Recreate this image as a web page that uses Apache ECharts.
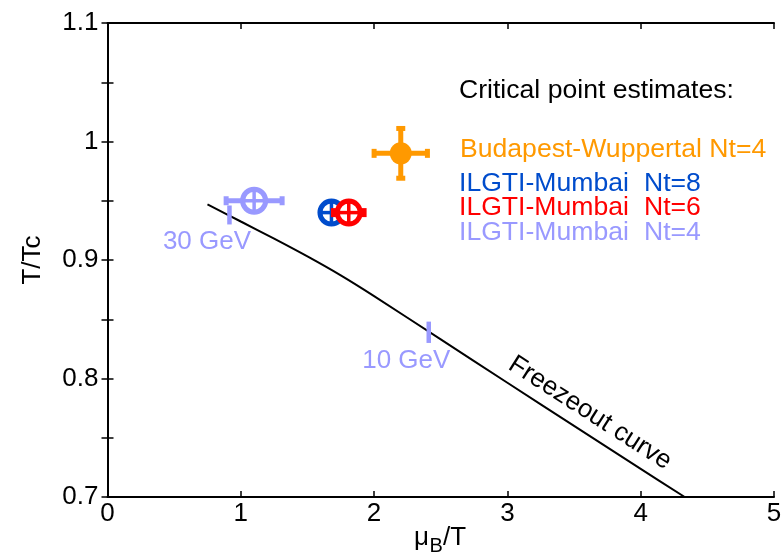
<!DOCTYPE html>
<html><head><meta charset="utf-8">
<script src="https://cdn.jsdelivr.net/npm/echarts@6/dist/echarts.min.js"></script>
<style>html,body{margin:0;padding:0;background:#fff}#c{width:784px;height:555px}</style>
</head><body><div id="c"></div>
<script>
// ---- data ----
const xTicks = [0, 1, 2, 3, 4, 5];
const yTicks = [0.7, 0.8, 0.9, 1.0, 1.1];

const freezeMuB = [0.75, 1.0, 1.25, 1.5, 1.75, 2.0, 2.5, 3.0, 3.5, 4.0, 4.33];
const freezeT   = [0.947, 0.9325, 0.918, 0.903, 0.887, 0.8695, 0.833, 0.7964, 0.760, 0.7237, 0.700];

const pointNames   = ['Budapest-Wuppertal Nt=4', 'ILGTI-Mumbai Nt=8', 'ILGTI-Mumbai Nt=6', 'ILGTI-Mumbai Nt=4'];
const pointColors  = ['#ff9900', '#004ccc', '#ff0000', '#9999ff'];
const pointMuB     = [2.2, 1.68, 1.81, 1.1];
const pointT       = [0.99, 0.94, 0.94, 0.95];
const pointMuBErr  = [0.2, 0.08, 0.115, 0.21];
const pointTErr    = [0.021, 0, 0, 0];
const pointFilled  = [true, false, false, false];

const energyLabels = ['30 GeV', '10 GeV'];
const energyMuB    = [0.915, 2.41];
const energyTLo    = [0.930, 0.830];
const energyTHi    = [0.946, 0.848];

const FONT = 'Liberation Sans, Arial, sans-serif';

function fmtY(v) {
  const r = Math.round(v * 100);
  if (r % 10 !== 0) return '';
  return String(Number(v.toFixed(2)));
}

function pointRender(idx) {
  return function (params, api) {
    const x = api.value(0), y = api.value(1), ex = api.value(2), ey = api.value(3);
    const c = api.coord([x, y]);
    const col = pointColors[idx];
    const ch = [];
    const bw = 5, cap = 4.5;
    if (ex > 0) {
      const l = api.coord([x - ex, y]), r = api.coord([x + ex, y]);
      ch.push({type: 'line', shape: {x1: l[0], y1: l[1], x2: r[0], y2: r[1]}, style: {stroke: col, lineWidth: bw}});
      ch.push({type: 'line', shape: {x1: l[0], y1: l[1] - cap, x2: l[0], y2: l[1] + cap}, style: {stroke: col, lineWidth: bw}});
      ch.push({type: 'line', shape: {x1: r[0], y1: r[1] - cap, x2: r[0], y2: r[1] + cap}, style: {stroke: col, lineWidth: bw}});
    }
    if (ey > 0) {
      const t = api.coord([x, y + ey]), b = api.coord([x, y - ey]);
      ch.push({type: 'line', shape: {x1: t[0], y1: t[1], x2: b[0], y2: b[1]}, style: {stroke: col, lineWidth: bw}});
      ch.push({type: 'line', shape: {x1: t[0] - cap, y1: t[1], x2: t[0] + cap, y2: t[1]}, style: {stroke: col, lineWidth: bw}});
      ch.push({type: 'line', shape: {x1: b[0] - cap, y1: b[1], x2: b[0] + cap, y2: b[1]}, style: {stroke: col, lineWidth: bw}});
    }
    if (pointFilled[idx]) {
      ch.push({type: 'circle', shape: {cx: c[0], cy: c[1], r: 11}, style: {fill: col}});
    } else {
      const R = 11.5;
      ch.push({type: 'circle', shape: {cx: c[0], cy: c[1], r: R}, style: {fill: '#fff', stroke: col, lineWidth: 5}});
      ch.push({type: 'line', shape: {x1: c[0] - R, y1: c[1], x2: c[0] + R, y2: c[1]}, style: {stroke: col, lineWidth: 3.5}});
      ch.push({type: 'line', shape: {x1: c[0], y1: c[1] - R, x2: c[0], y2: c[1] + R}, style: {stroke: col, lineWidth: 3.5}});
    }
    return {type: 'group', children: ch};
  };
}

const pointSeries = pointNames.map((n, i) => ({
  type: 'custom', name: n, xAxisIndex: 0, yAxisIndex: 0, clip: false, z: 5 + i,
  renderItem: pointRender(i),
  data: [[pointMuB[i], pointT[i], pointMuBErr[i], pointTErr[i]]]
}));

const energySeries = {
  type: 'custom', name: 'energies', xAxisIndex: 0, yAxisIndex: 0, z: 4,
  renderItem: function (params, api) {
    const i = params.dataIndex;
    const lo = api.coord([api.value(0), api.value(1)]);
    const hi = api.coord([api.value(0), api.value(2)]);
    return {type: 'group', children: [
      {type: 'line', shape: {x1: lo[0], y1: lo[1], x2: hi[0], y2: hi[1]}, style: {stroke: '#9999ff', lineWidth: 4.5}},
      {type: 'text', x: lo[0] - 22.5, y: lo[1] + 17.5,
        style: {text: energyLabels[i], fill: '#9999ff', font: '26px ' + FONT, textAlign: 'center', textVerticalAlign: 'middle', align: 'center', verticalAlign: 'middle'}}
    ]};
  },
  data: energyMuB.map((m, i) => [m, energyTLo[i], energyTHi[i]])
};

const LF = '26.6px ' + FONT;
const legendRows = [
  {parts: [['Critical point estimates:', 459]], color: '#000', y: 91},
  {parts: [['Budapest-Wuppertal Nt=4', 460]], color: pointColors[0], y: 150},
  {parts: [['ILGTI-Mumbai', 459], ['Nt=8', 644]], color: pointColors[1], y: 184},
  {parts: [['ILGTI-Mumbai', 459], ['Nt=6', 644]], color: pointColors[2], y: 208},
  {parts: [['ILGTI-Mumbai', 459], ['Nt=4', 644]], color: pointColors[3], y: 233}
];
const graphics = [];
legendRows.forEach(r => r.parts.forEach(p => graphics.push({
  type: 'text', x: p[1], y: r.y, z: 10,
  style: {text: p[0], fill: r.color, font: LF, textAlign: 'left', textVerticalAlign: 'middle'}
})));
graphics.push({
  type: 'text', x: 590, y: 413, rotation: -32.7 * Math.PI / 180, z: 10,
  style: {text: 'Freezeout curve', fill: '#000', font: '26px ' + FONT, textAlign: 'center', textVerticalAlign: 'middle'}
});
// x-axis title: μ_B/T
[['μ', 414, 538, 26], ['B', 429.5, 546, 20], ['/T', 443, 538, 26]].forEach(t => graphics.push({
  type: 'text', x: t[1], y: t[2], z: 10,
  style: {text: t[0], fill: '#000', font: t[3] + 'px ' + FONT, textAlign: 'left', textVerticalAlign: 'middle'}
}));

const axisLineStyle = {color: '#000', width: 2};
const tickStyle = {show: true, inside: true, length: 6, lineStyle: {color: '#000', width: 1.5}};
const chart = echarts.init(document.getElementById('c'), null, {renderer: 'canvas'});
chart.setOption({
  animation: false,
  backgroundColor: '#fff',
  grid: {left: 107.5, right: 10, top: 23, bottom: 58, containLabel: false, outerBoundsMode: 'none'},
  xAxis: [
    {type: 'value', min: xTicks[0], max: xTicks[xTicks.length - 1], interval: 1, position: 'bottom',
     axisLine: {show: true, lineStyle: axisLineStyle}, axisTick: tickStyle,
     axisLabel: {color: '#000', fontSize: 26, fontFamily: FONT, margin: 4},
     splitLine: {show: false}},
    {type: 'value', min: xTicks[0], max: xTicks[xTicks.length - 1], interval: 1, position: 'top',
     axisLine: {show: true, lineStyle: axisLineStyle}, axisTick: tickStyle,
     axisLabel: {show: false}, splitLine: {show: false}}
  ],
  yAxis: [
    {type: 'value', min: yTicks[0], max: yTicks[yTicks.length - 1], interval: 0.05, position: 'left',
     axisLine: {show: true, lineStyle: axisLineStyle}, axisTick: tickStyle,
     axisLabel: {color: '#000', fontSize: 26, fontFamily: FONT, margin: 9, formatter: fmtY},
     splitLine: {show: false},
     name: 'T/Tc', nameLocation: 'middle', nameGap: 62, nameRotate: 90,
     nameTextStyle: {fontSize: 26, fontFamily: FONT, color: '#000'}},
    {type: 'value', min: yTicks[0], max: yTicks[yTicks.length - 1], interval: 0.05, position: 'right',
     axisLine: {show: true, lineStyle: axisLineStyle}, axisTick: tickStyle,
     axisLabel: {show: false}, splitLine: {show: false}}
  ],
  series: [
    {type: 'line', name: 'Freezeout curve', xAxisIndex: 0, yAxisIndex: 0, showSymbol: false, smooth: 0.3,
     lineStyle: {color: '#000', width: 2}, z: 3,
     data: freezeMuB.map((m, i) => [m, freezeT[i]])},
    energySeries
  ].concat(pointSeries),
  graphic: graphics
});
</script></body></html>
